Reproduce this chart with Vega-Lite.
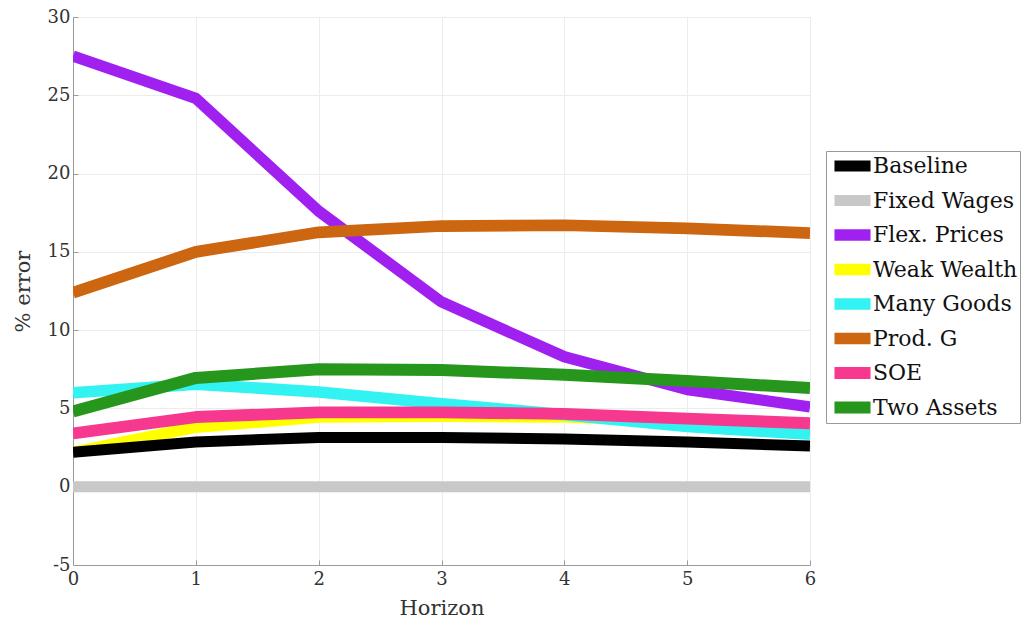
{
  "$schema": "https://vega.github.io/schema/vega-lite/v6.json",
  "width": 737,
  "height": 548,
  "autosize": {"type": "none"},
  "padding": {"left": 73, "top": 17, "right": 221, "bottom": 59},
  "background": "white",
  "config": {
    "font": "DejaVu Serif",
    "view": {"stroke": null},
    "axis": {
      "labelFont": "DejaVu Serif",
      "titleFont": "DejaVu Serif",
      "labelFontSize": 18,
      "titleFontSize": 21,
      "labelColor": "#333",
      "titleColor": "#333",
      "titleFontWeight": "normal",
      "domainColor": "#9a9a9a",
      "tickColor": "#9a9a9a",
      "gridColor": "#ececec",
      "tickSize": -5,
      "labelFlush": false,
      "labelExpr": "toString(datum.value)"
    },
    "legend": {
      "labelFont": "DejaVu Serif",
      "labelFontSize": 22,
      "labelColor": "#111"
    }
  },
  "data": {
    "values": [
      {"h": 0, "v": 0, "series": "Fixed Wages"},
      {"h": 1, "v": 0, "series": "Fixed Wages"},
      {"h": 2, "v": 0, "series": "Fixed Wages"},
      {"h": 3, "v": 0, "series": "Fixed Wages"},
      {"h": 4, "v": 0, "series": "Fixed Wages"},
      {"h": 5, "v": 0, "series": "Fixed Wages"},
      {"h": 6, "v": 0, "series": "Fixed Wages"},
      {"h": 0, "v": 27.5, "series": "Flex. Prices"},
      {"h": 1, "v": 24.8, "series": "Flex. Prices"},
      {"h": 2, "v": 17.6, "series": "Flex. Prices"},
      {"h": 3, "v": 11.8, "series": "Flex. Prices"},
      {"h": 4, "v": 8.3, "series": "Flex. Prices"},
      {"h": 5, "v": 6.2, "series": "Flex. Prices"},
      {"h": 6, "v": 5.1, "series": "Flex. Prices"},
      {"h": 0, "v": 2.2, "series": "Weak Wealth"},
      {"h": 1, "v": 3.8, "series": "Weak Wealth"},
      {"h": 2, "v": 4.45, "series": "Weak Wealth"},
      {"h": 3, "v": 4.5, "series": "Weak Wealth"},
      {"h": 4, "v": 4.45, "series": "Weak Wealth"},
      {"h": 5, "v": 4.2, "series": "Weak Wealth"},
      {"h": 6, "v": 3.95, "series": "Weak Wealth"},
      {"h": 0, "v": 6.0, "series": "Many Goods"},
      {"h": 1, "v": 6.55, "series": "Many Goods"},
      {"h": 2, "v": 6.05, "series": "Many Goods"},
      {"h": 3, "v": 5.3, "series": "Many Goods"},
      {"h": 4, "v": 4.6, "series": "Many Goods"},
      {"h": 5, "v": 3.85, "series": "Many Goods"},
      {"h": 6, "v": 3.35, "series": "Many Goods"},
      {"h": 0, "v": 12.4, "series": "Prod. G"},
      {"h": 1, "v": 15.0, "series": "Prod. G"},
      {"h": 2, "v": 16.25, "series": "Prod. G"},
      {"h": 3, "v": 16.65, "series": "Prod. G"},
      {"h": 4, "v": 16.7, "series": "Prod. G"},
      {"h": 5, "v": 16.5, "series": "Prod. G"},
      {"h": 6, "v": 16.2, "series": "Prod. G"},
      {"h": 0, "v": 3.4, "series": "SOE"},
      {"h": 1, "v": 4.45, "series": "SOE"},
      {"h": 2, "v": 4.75, "series": "SOE"},
      {"h": 3, "v": 4.75, "series": "SOE"},
      {"h": 4, "v": 4.65, "series": "SOE"},
      {"h": 5, "v": 4.35, "series": "SOE"},
      {"h": 6, "v": 4.05, "series": "SOE"},
      {"h": 0, "v": 4.8, "series": "Two Assets"},
      {"h": 1, "v": 6.95, "series": "Two Assets"},
      {"h": 2, "v": 7.5, "series": "Two Assets"},
      {"h": 3, "v": 7.45, "series": "Two Assets"},
      {"h": 4, "v": 7.15, "series": "Two Assets"},
      {"h": 5, "v": 6.75, "series": "Two Assets"},
      {"h": 6, "v": 6.3, "series": "Two Assets"},
      {"h": 0, "v": 2.2, "series": "Baseline"},
      {"h": 1, "v": 2.85, "series": "Baseline"},
      {"h": 2, "v": 3.15, "series": "Baseline"},
      {"h": 3, "v": 3.15, "series": "Baseline"},
      {"h": 4, "v": 3.05, "series": "Baseline"},
      {"h": 5, "v": 2.85, "series": "Baseline"},
      {"h": 6, "v": 2.6, "series": "Baseline"}
    ]
  },
  "mark": {"type": "line", "strokeCap": "butt", "strokeJoin": "round", "clip": true},
  "encoding": {
    "x": {
      "field": "h",
      "type": "quantitative",
      "title": "Horizon",
      "scale": {"domain": [0, 6], "nice": false},
      "axis": {"values": [0, 1, 2, 3, 4, 5, 6], "labelPadding": 10, "titlePadding": 9}
    },
    "y": {
      "field": "v",
      "type": "quantitative",
      "title": "% error",
      "scale": {"domain": [-5, 30], "nice": false},
      "axis": {"values": [-5, 0, 5, 10, 15, 20, 25, 30], "labelPadding": 8, "titlePadding": 14}
    },
    "color": {
      "field": "series",
      "type": "nominal",
      "title": null,
      "scale": {
        "domain": ["Baseline", "Fixed Wages", "Flex. Prices", "Weak Wealth", "Many Goods", "Prod. G", "SOE", "Two Assets"],
        "range": ["#000000", "#c8c8c8", "#a020f0", "#ffff00", "#33f2f2", "#cc6611", "#f7388f", "#26961c"]
      },
      "legend": {
        "orient": "none",
        "legendX": 753,
        "legendY": 134,
        "symbolType": "stroke",
        "symbolSize": 1300,
        "symbolStrokeWidth": 5,
        "strokeColor": "#999",
        "fillColor": "white",
        "padding": 2,
        "clipHeight": 26,
        "rowPadding": 8.5,
        "labelOffset": -4,
        "labelLimit": 400
      }
    },
    "strokeWidth": {
      "field": "series",
      "type": "nominal",
      "scale": {
        "domain": ["Baseline", "Fixed Wages", "Flex. Prices", "Weak Wealth", "Many Goods", "Prod. G", "SOE", "Two Assets"],
        "range": [11, 12, 5.5, 5.5, 5.5, 5.5, 5.5, 5.5]
      },
      "legend": null
    }
  }
}
